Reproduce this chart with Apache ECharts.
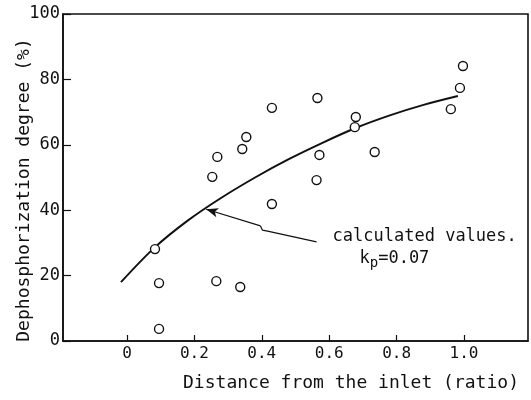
<!DOCTYPE html>
<html>
<head>
<meta charset="utf-8">
<script src="https://cdn.jsdelivr.net/npm/echarts@6/dist/echarts.min.js"></script>
<style>
  html, body { margin: 0; padding: 0; background: #fff; }
  #chart { width: 531px; height: 400px; }
</style>
</head>
<body>
<div id="chart"></div>
<script>
// Measured dephosphorization degree along the vessel
const distance = [0.083, 0.095, 0.095, 0.253, 0.268, 0.265, 0.336, 0.342, 0.354, 0.43,
                  0.43, 0.565, 0.571, 0.5625, 0.679, 0.676, 0.735, 0.961, 0.988, 0.997];
const degree   = [28.1, 17.7, 3.7, 50.2, 56.3, 18.3, 16.5, 58.7, 62.4, 71.3,
                  41.9, 74.3, 56.9, 49.2, 68.5, 65.4, 57.8, 70.9, 77.4, 84.1];

// Calculated curve (kp = 0.07)
const calcX = [-0.018, 0.08, 0.18, 0.28, 0.38, 0.48, 0.58, 0.68, 0.78, 0.88, 0.982];
const calcY = [18.0, 28.4, 36.8, 43.8, 50.0, 55.6, 60.6, 65.2, 69.0, 72.2, 74.9];

// Axis ticks
const xTicks = [0, 0.2, 0.4, 0.6, 0.8, 1.0];

// Leader from the note to the curve
const leaderX = [0.396, 0.402, 0.417, 0.5625];
const leaderY = [35.2, 33.9, 33.6, 30.3];
const arrowTip = [0.235, 40.3];

const FONT = '"DejaVu Sans Mono", monospace';
const INK = '#111';

const chart = echarts.init(document.getElementById('chart'), null, { renderer: 'canvas' });

chart.setOption({
  animation: false,
  backgroundColor: '#fff',
  grid: {
    left: 63, right: 3, top: 14, bottom: 59,
    show: true, borderColor: INK, borderWidth: 1.6, backgroundColor: 'transparent'
  },
  xAxis: {
    type: 'value', min: -0.19, max: 1.19,
    splitLine: { show: false },
    axisLine: { show: true, onZero: false, lineStyle: { color: INK, width: 1.6 } },
    axisTick: { show: true, inside: true, length: 6, customValues: xTicks, lineStyle: { color: INK, width: 1.2 } },
    axisLabel: {
      customValues: xTicks, color: INK, fontFamily: FONT, fontSize: 16, margin: 5,
      formatter: v => (v === 0 ? '0' : v.toFixed(1))
    }
  },
  yAxis: {
    type: 'value', min: 0, max: 100, interval: 20,
    splitLine: { show: false },
    axisLine: { show: true, onZero: false, lineStyle: { color: INK, width: 1.6 } },
    axisTick: { show: true, inside: true, length: 8, lineStyle: { color: INK, width: 1.2 } },
    axisLabel: { color: INK, fontFamily: FONT, fontSize: 17, margin: 3 }
  },
  graphic: [
    {
      type: 'text', x: 24, y: 190, rotation: Math.PI / 2,
      style: {
        text: 'Dephosphorization degree (%)', fill: INK, font: '18px ' + FONT,
        align: 'center', verticalAlign: 'middle'
      }
    },
    {
      type: 'text', x: 351, y: 383,
      style: {
        text: 'Distance from the inlet (ratio)', fill: INK, font: '18px ' + FONT,
        align: 'center', verticalAlign: 'middle'
      }
    }
  ],
  series: [
    {
      name: 'calculated',
      type: 'line',
      data: calcX.map((x, i) => [x, calcY[i]]),
      smooth: 0.3,
      showSymbol: false,
      lineStyle: { color: INK, width: 2 },
      z: 2
    },
    {
      name: 'leader',
      type: 'line',
      data: leaderX.map((x, i) => [x, leaderY[i]]),
      showSymbol: false,
      lineStyle: { color: INK, width: 1.2 },
      markLine: {
        silent: true,
        symbol: ['none', 'arrow'],
        symbolSize: [7, 12],
        label: { show: false },
        lineStyle: { color: INK, width: 1.2, type: 'solid' },
        data: [[{ coord: [leaderX[0], leaderY[0]] }, { coord: arrowTip }]]
      },
      z: 2
    },
    {
      name: 'note',
      type: 'scatter',
      symbolSize: 0,
      itemStyle: { opacity: 1 },
      data: [[0.61, 32.0, 'a'], [0.69, 25.2, 'b']],
      label: {
        show: true, position: 'right', distance: 0, color: INK, fontFamily: FONT, fontSize: 17,
        formatter: p => (p.data[2] === 'a' ? 'calculated values.' : 'k{sub|p}=0.07'),
        rich: {
          sub: { fontFamily: FONT, fontSize: 14, color: INK, padding: [9, 0, 0, 0] }
        }
      },
      z: 3
    },
    {
      name: 'measured',
      type: 'scatter',
      data: distance.map((x, i) => [x, degree[i]]),
      symbol: 'circle',
      symbolSize: 9,
      itemStyle: { color: '#fff', borderColor: INK, borderWidth: 1.4, opacity: 1 },
      z: 4
    }
  ]
});
</script>
</body>
</html>
